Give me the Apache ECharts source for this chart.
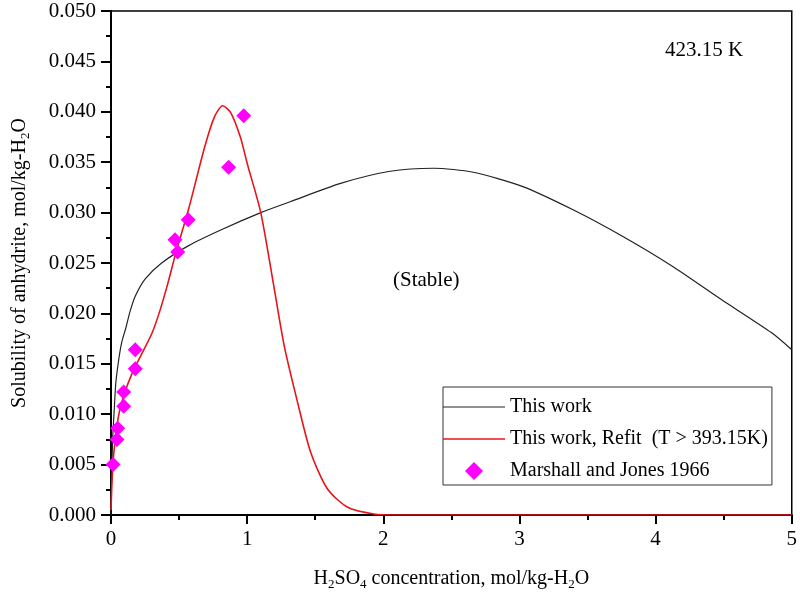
<!DOCTYPE html>
<html lang="en">
<head>
    <meta charset="UTF-8">
    <title>Solubility of anhydrite 423.15 K</title>
    <script src="https://cdn.jsdelivr.net/npm/echarts@6/dist/echarts.min.js"></script>
    <style>
        html, body {
            margin: 0;
            padding: 0;
            background: #fff;
        }

        #main {
            width: 800px;
            height: 596px;
        }
    </style>
</head>
<body>
<div id="main"></div>

<script type="text/javascript">
    // This work (black curve)
    var workX = [0, 0.004, 0.012, 0.024, 0.036, 0.061, 0.08, 0.11, 0.14, 0.178, 0.25, 0.372, 0.567, 0.81, 1.1, 1.32,
        1.686, 2.05, 2.37, 2.66, 3.02, 3.39, 3.75, 4.12, 4.48, 4.85, 5.0];
    var workY = [0, 0.0035, 0.0075, 0.0105, 0.0132, 0.0158, 0.0172, 0.0186, 0.0202, 0.0217, 0.0234, 0.0250, 0.0267,
        0.0283, 0.0300, 0.0311, 0.0329, 0.0341, 0.0344, 0.0340, 0.0326, 0.0303, 0.0277, 0.0247, 0.0214, 0.0181, 0.0164];

    // This work, Refit (red curve)
    var refitX = [0, 0.012, 0.031, 0.061, 0.11, 0.17, 0.23, 0.30, 0.36, 0.42, 0.48, 0.567, 0.69, 0.76, 0.82, 0.88,
        0.95, 1.0, 1.1, 1.187, 1.272, 1.37, 1.467, 1.589, 1.735, 1.93, 2.1, 3.0, 4.0, 5.0];
    var refitY = [0.0005, 0.0046, 0.0075, 0.0102, 0.0125, 0.0145, 0.0161, 0.0180, 0.0203, 0.0231, 0.0262, 0.0302,
        0.0366, 0.0395, 0.0406, 0.0399, 0.0375, 0.0349, 0.0300, 0.0234, 0.0168, 0.0112, 0.0062, 0.0026, 0.0008,
        0.0001, 0, 0, 0, 0];

    // Marshall and Jones 1966
    var expX = [0.015, 0.044, 0.049, 0.093, 0.093, 0.178, 0.178, 0.47, 0.49, 0.567, 0.864, 0.975];
    var expY = [0.0050, 0.0075, 0.0086, 0.0108, 0.0122, 0.0145, 0.0164, 0.0273, 0.0261, 0.0293, 0.0345, 0.0396];

    var serif = "'Liberation Serif', 'Times New Roman', serif";

    function pairs(xs, ys) {
        var out = [];
        for (var i = 0; i < xs.length; i++) out.push([xs[i], ys[i]]);
        return out;
    }

    var myChart = echarts.init(document.getElementById('main'), null, {renderer: 'canvas'});

    var nameRich = {
        n: {fontFamily: serif, fontSize: 20, color: '#000', lineHeight: 22},
        s: {fontFamily: serif, fontSize: 13, color: '#000', lineHeight: 13, padding: [11, 0, 0, 0]}
    };

    var option = {
        backgroundColor: '#fff',
        animation: false,
        grid: {
            left: 108, right: 6, top: 11, bottom: 80,
            show: true, borderColor: '#000', borderWidth: 1.5
        },
        legend: {
            orient: 'vertical',
            left: 443, top: 387,
            padding: [10, 4, 4, 0],
            itemWidth: 62, itemHeight: 18, itemGap: 12,
            symbolKeepAspect: true,
            borderColor: '#333', borderWidth: 1,
            textStyle: {fontFamily: serif, fontSize: 20, color: '#000'},
            data: [
                {name: 'This work', icon: 'path://M0,0 L62,0 L62,1.2 L0,1.2 Z'},
                {name: 'This work, Refit  (T > 393.15K)', icon: 'path://M0,0 L62,0 L62,1.6 L0,1.6 Z'},
                {name: 'Marshall and Jones 1966', icon: 'path://M6,0 L12,6 L6,12 L0,6 Z'}
            ]
        },
        xAxis: {
            type: 'value', min: 0, max: 5, interval: 1,
            name: '{n|H}{s|2}{n|SO}{s|4}{n| concentration, mol/kg-H}{s|2}{n|O}',
            nameLocation: 'middle', nameGap: 53,
            nameTextStyle: {rich: nameRich},
            axisLine: {lineStyle: {color: '#000', width: 2}},
            axisTick: {inside: false, length: 9, lineStyle: {color: '#000', width: 2}},
            minorTick: {show: true, splitNumber: 2, length: 5, lineStyle: {color: '#000', width: 2}},
            axisLabel: {fontFamily: serif, fontSize: 21, color: '#000', margin: 14},
            splitLine: {show: false}
        },
        yAxis: {
            type: 'value', min: 0, max: 0.05, interval: 0.005,
            name: '{n|Solubility of anhydrite, mol/kg-H}{s|2}{n|O}',
            nameLocation: 'middle', nameGap: 80,
            nameTextStyle: {rich: nameRich},
            axisLine: {lineStyle: {color: '#000', width: 2}},
            axisTick: {inside: false, length: 10, lineStyle: {color: '#000', width: 2}},
            minorTick: {show: true, splitNumber: 2, length: 5, lineStyle: {color: '#000', width: 2}},
            axisLabel: {
                fontFamily: serif, fontSize: 21, color: '#000', margin: 15,
                formatter: function (v) { return v.toFixed(3); }
            },
            splitLine: {show: false}
        },
        graphic: [
            {
                type: 'text', left: 665, top: 40,
                style: {text: '423.15 K', fontFamily: serif, fontSize: 21, fill: '#000'}
            },
            {
                type: 'text', left: 393, top: 270,
                style: {text: '(Stable)', fontFamily: serif, fontSize: 21, fill: '#000'}
            }
        ],
        series: [
            {
                name: 'This work',
                type: 'line',
                data: pairs(workX, workY),
                showSymbol: false, symbol: 'none',
                smooth: 0.25,
                lineStyle: {color: '#222', width: 1.2},
                itemStyle: {color: '#222'},
                z: 2
            },
            {
                name: 'This work, Refit  (T > 393.15K)',
                type: 'line',
                data: pairs(refitX, refitY),
                showSymbol: false, symbol: 'none',
                smooth: 0.25,
                lineStyle: {color: '#e8141b', width: 1.6},
                itemStyle: {color: '#e8141b'},
                z: 3
            },
            {
                name: 'Marshall and Jones 1966',
                type: 'scatter',
                data: pairs(expX, expY),
                symbol: 'diamond',
                symbolSize: [15, 15],
                itemStyle: {color: '#ff00ff', opacity: 1},
                z: 4
            }
        ]
    };

    myChart.setOption(option);
</script>
</body>
</html>
